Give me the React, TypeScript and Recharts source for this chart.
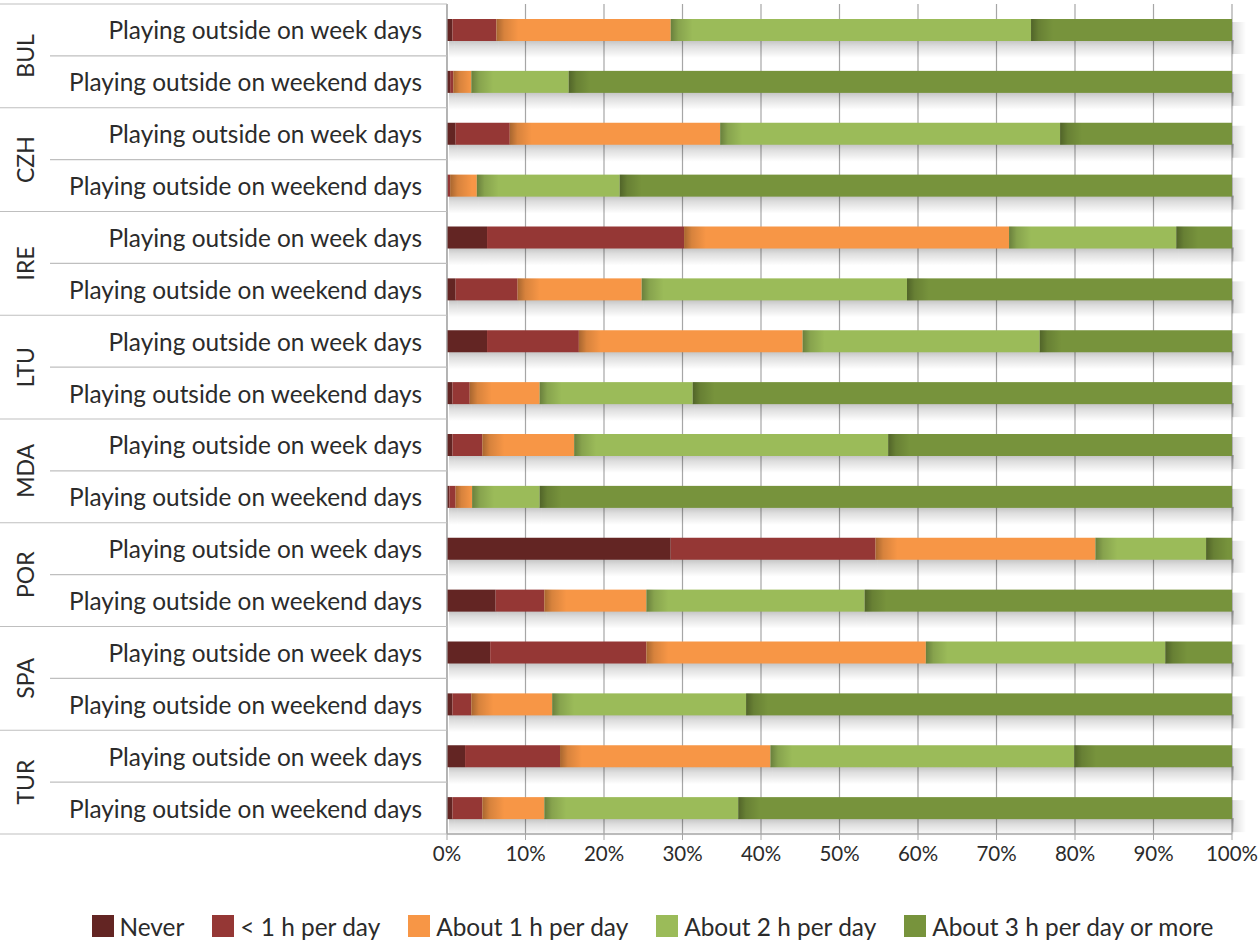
import React from 'react';
import { BarChart, Bar, XAxis, YAxis, CartesianGrid, Legend } from 'recharts';

// Countries, each with a week-day row and a weekend row
const COUNTRIES = ['BUL', 'CZH', 'IRE', 'LTU', 'MDA', 'POR', 'SPA', 'TUR'];
const PERIODS = ['Playing outside on week days', 'Playing outside on weekend days'];

// Share of children (%) per row, in row order (country × period)
const NEVER = [0.7, 0.4, 1.1, 0.1, 5.1, 1.1, 5.1, 0.7, 0.7, 0.3, 28.5, 6.2, 5.5, 0.7, 2.3, 0.7];
const LESS_1H = [5.6, 0.4, 6.9, 0.3, 25.1, 7.9, 11.7, 2.2, 3.8, 0.8, 26.1, 6.2, 19.9, 2.4, 12.1, 3.8];
const ABOUT_1H = [22.2, 2.3, 26.8, 3.4, 41.4, 15.8, 28.5, 8.9, 11.7, 2.1, 28.0, 13.0, 35.6, 10.3, 26.8, 7.9];
const ABOUT_2H = [45.9, 12.4, 43.3, 18.2, 21.3, 33.8, 30.2, 19.5, 40.0, 8.6, 14.1, 27.8, 30.5, 24.7, 38.7, 24.7];
const ABOUT_3H = [25.6, 84.5, 21.9, 78.0, 7.1, 41.4, 24.5, 68.7, 43.8, 88.2, 3.3, 46.8, 8.5, 61.9, 20.1, 62.9];

const X_TICKS = [0, 10, 20, 30, 40, 50, 60, 70, 80, 90, 100];

const SERIES = [
  { key: 'never', name: 'Never', color: '#632523', values: NEVER },
  { key: 'less1', name: '< 1 h per day', color: '#953735', values: LESS_1H },
  { key: 'h1', name: 'About 1 h per day', color: '#F79646', values: ABOUT_1H },
  { key: 'h2', name: 'About 2 h per day', color: '#9BBB59', values: ABOUT_2H },
  { key: 'h3', name: 'About 3 h per day or more', color: '#77933C', values: ABOUT_3H },
];

const FONT = "Lato, 'Open Sans', 'DejaVu Sans', sans-serif";
const TEXT = '#2b2b2b';
const GRID = '#A6A6A6';
const SEP = '#BFBFBF';

const CHART_W = 1260;
const CHART_H = 943;
const MARGIN = { top: 4, right: 28, bottom: 2, left: 0 };
const Y_AXIS_W = 447;
const X_AXIS_H = 77;
const LEGEND_H = 30;
const PLOT_H = CHART_H - MARGIN.top - MARGIN.bottom - X_AXIS_H - LEGEND_H;

const rows = COUNTRIES.flatMap((country, ci) =>
  PERIODS.map((period, pi) => {
    const i = ci * 2 + pi;
    const row: Record<string, any> = { key: `${country}-${pi}`, country, period, pi };
    SERIES.forEach((s) => {
      row[s.key] = s.values[i];
    });
    return row;
  })
);

const ROW_H = PLOT_H / rows.length;

// Two-level category tick: period label, separators and rotated country name
const RowTick = (props: any) => {
  const { y, payload } = props;
  const row = rows.find((r) => r.key === payload.value);
  if (!row) return null;
  const idx = rows.indexOf(row);
  const right = Y_AXIS_W;
  const bottom = y + ROW_H / 2;
  return (
    <g>
      {idx === 0 && (
        <line x1={0} x2={right} y1={y - ROW_H / 2} y2={y - ROW_H / 2} stroke={SEP} strokeWidth={1.2} />
      )}
      <line x1={row.pi === 1 ? 0 : 50} x2={right} y1={bottom} y2={bottom} stroke={SEP} strokeWidth={1.2} />
      <text
        x={right - 25}
        y={y}
        textAnchor="end"
        dominantBaseline="central"
        fontFamily={FONT}
        fontSize={24.4}
        fill={TEXT}
      >
        {row.period}
      </text>
      {row.pi === 0 && (
        <text
          x={25}
          y={bottom}
          textAnchor="middle"
          dominantBaseline="central"
          transform={`rotate(-90 25 ${bottom})`}
          fontFamily={FONT}
          fontSize={23}
          fill={TEXT}
        >
          {row.country}
        </text>
      )}
    </g>
  );
};

// Segment with a soft shadow underneath; later segments get a shaded left edge,
// and the closing segment casts a little shadow to its right
const Segment = (props: any) => {
  const { x, y, width, height, fill, shade, last } = props;
  if (!width || width <= 0) return null;
  const edge = Math.min(22, width);
  return (
    <g>
      <rect x={x + 2} y={y + height - 1} width={width} height={18} fill="url(#dropShade)" />
      {last && <rect x={x + width} y={y + 3} width={14} height={height + 10} fill="url(#sideShade)" />}
      <rect x={x} y={y} width={width} height={height} fill={fill} />
      {shade && <rect x={x} y={y} width={edge} height={height} fill="url(#edgeShade)" />}
    </g>
  );
};

const LegendContent = () => (
  <div
    style={{
      display: 'flex',
      justifyContent: 'center',
      alignItems: 'center',
      height: LEGEND_H,
      paddingLeft: 73,
      fontFamily: FONT,
      fontSize: 24.4,
      color: TEXT,
    }}
  >
    {SERIES.map((s, i) => (
      <div key={s.key} style={{ display: 'flex', alignItems: 'center', marginRight: i < SERIES.length - 1 ? 28 : 0 }}>
        <span style={{ width: 22, height: 22, background: s.color, marginRight: 6, display: 'inline-block' }} />
        <span>{s.name}</span>
      </div>
    ))}
  </div>
);

export default function App() {
  return (
    <div style={{ position: 'absolute', left: 0, top: 0, width: CHART_W, height: CHART_H, background: '#fff' }}>
      <BarChart width={CHART_W} height={CHART_H} data={rows} layout="vertical" margin={MARGIN}>
        <defs>
          <linearGradient id="dropShade" x1="0" x2="0" y1="0" y2="1">
            <stop offset="0%" stopColor="#000" stopOpacity={0.24} />
            <stop offset="35%" stopColor="#000" stopOpacity={0.13} />
            <stop offset="100%" stopColor="#000" stopOpacity={0} />
          </linearGradient>
          <linearGradient id="sideShade" x1="0" x2="1" y1="0" y2="0">
            <stop offset="0%" stopColor="#000" stopOpacity={0.14} />
            <stop offset="100%" stopColor="#000" stopOpacity={0} />
          </linearGradient>
          <linearGradient id="edgeShade" x1="0" x2="1" y1="0" y2="0">
            <stop offset="0%" stopColor="#000" stopOpacity={0.32} />
            <stop offset="35%" stopColor="#000" stopOpacity={0.13} />
            <stop offset="100%" stopColor="#000" stopOpacity={0} />
          </linearGradient>
        </defs>
        <CartesianGrid horizontal={false} vertical stroke={GRID} strokeWidth={1.2} />
        <XAxis
          type="number"
          domain={[0, 100]}
          ticks={X_TICKS}
          height={X_AXIS_H}
          tickFormatter={(v: number) => `${v}%`}
          tickSize={6}
          tickMargin={6}
          tickLine={{ stroke: GRID }}
          axisLine={{ stroke: GRID, strokeWidth: 1.5 }}
          tick={{ fill: TEXT, fontSize: 20.5, fontFamily: FONT }}
          interval={0}
        />
        <YAxis
          type="category"
          dataKey="key"
          width={Y_AXIS_W}
          interval={0}
          tickLine={false}
          axisLine={{ stroke: GRID, strokeWidth: 1.2 }}
          tick={<RowTick />}
        />
        <Legend verticalAlign="bottom" height={LEGEND_H} content={<LegendContent />} />
        {SERIES.map((s, i) => (
          <Bar
            key={s.key}
            dataKey={s.key}
            name={s.name}
            stackId="share"
            fill={s.color}
            barSize={22}
            isAnimationActive={false}
            shape={(p: any) => <Segment {...p} shade={i >= 2} last={i === SERIES.length - 1} />}
          />
        ))}
      </BarChart>
    </div>
  );
}
